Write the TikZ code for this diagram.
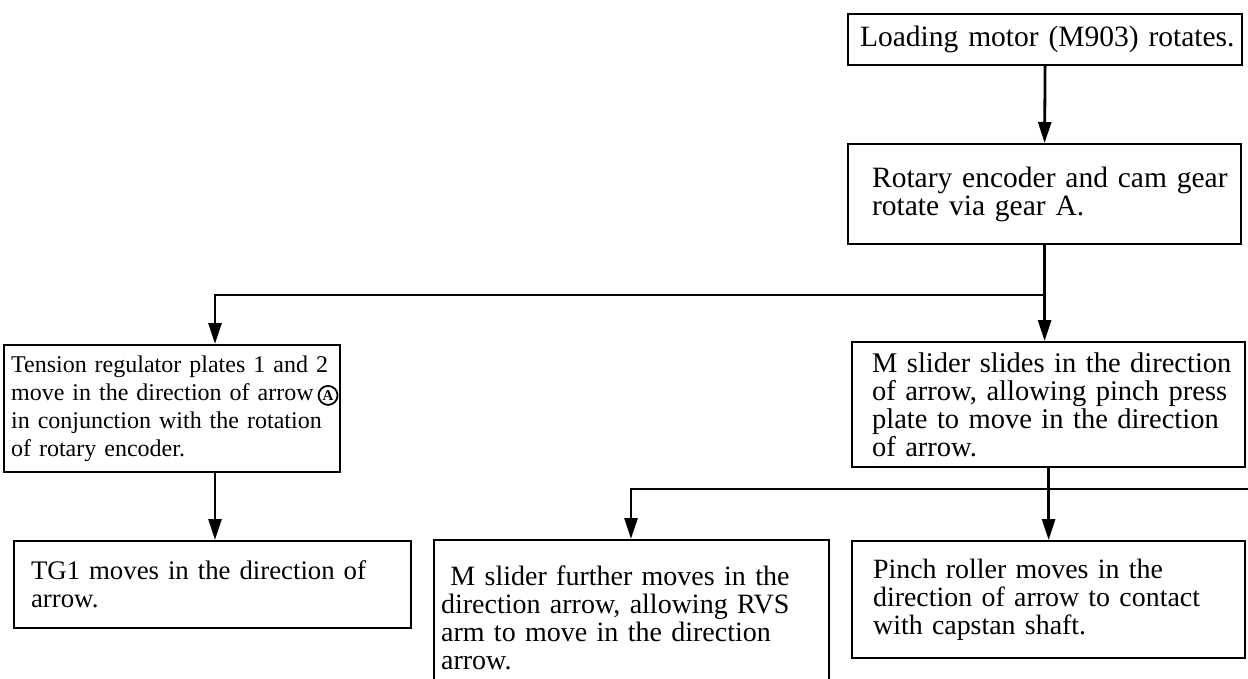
\documentclass[tikz,border=0pt]{standalone}
\usepackage{fontspec}
\setmainfont{Liberation Serif}
\usetikzlibrary{arrows.meta}
\newcommand\setfs[1]{\fontsize{#1}{28}\selectfont}
\newcommand\circA{\tikz[baseline={(ca.base)}]\node[circle, draw, line width=1.8pt, inner sep=0pt, minimum size=19pt, font=\bfseries\fontsize{15}{15}\selectfont] (ca) {A};}
\begin{document}
\begin{tikzpicture}[x=1pt,y=-1pt,
  box/.style n args={2}{draw, line width=2.2pt, rectangle, anchor=north west,
    inner sep=0pt, minimum width=#1pt, text width=#1pt, minimum height=#2pt, align=left},
  conn/.style={line width=2.8pt, -{Triangle[length=21pt,width=13pt]}},
]
\useasboundingbox (0,0) rectangle (1248,679);
\fill[white] (0,0) rectangle (1248,679);
\clip (0,0) rectangle (1248,679);

\node[box={394}{51}, font=\setfs{29.5}] (load) at (847,13)
  {\leftskip=12pt \mbox{Loading motor (M903) rotates.}\par};
\node[box={393}{100}, font=\setfs{29.5}] (rot) at (847,143)
  {\leftskip=24pt \mbox{Rotary encoder and cam gear}\\\mbox{rotate via gear A.}\par};
\node[box={336}{127}, font=\setfs{24}] (ten) at (3,344)
  {\leftskip=7pt \mbox{Tension regulator plates 1 and 2}\\\mbox{move in the direction of arrow\hspace{4pt}\circA}\\\mbox{in conjunction with the rotation}\\\mbox{of rotary encoder.}\par};
\node[box={393}{125}, font=\setfs{28.5}] (msl) at (851,341)
  {\leftskip=20pt \mbox{M slider slides in the direction}\\\mbox{of arrow, allowing pinch press}\\\mbox{plate to move in the direction}\\\mbox{of arrow.}\par};
\node[box={397}{87}, font=\setfs{26.8}] (tg) at (13,540)
  {\leftskip=17pt \mbox{TG1 moves in the direction of}\\\mbox{arrow.}\par};
\node[box={395}{156}, font=\setfs{28}] (mfur) at (433,539)
  {\leftskip=7pt \mbox{ M slider further moves in the}\\\mbox{direction arrow, allowing RVS}\\\mbox{arm to move in the direction}\\\mbox{arrow.}\par};
\node[box={393}{117}, font=\setfs{27.9}] (pin) at (851,540)
  {\leftskip=21pt \mbox{Pinch roller moves in the}\\\mbox{direction of arrow to contact}\\\mbox{with capstan shaft.}\par};

% connectors
\draw[conn] (load.south) -- (rot.north);
\draw[conn] (rot.south) -- (rot.south |- msl.north);
\coordinate (j1) at (rot.south |- 0,295);
\coordinate (t1) at (215,295);
\draw[conn] (j1) -- (t1) -- (t1 |- ten.north);
\draw[conn] (t1 |- ten.south) -- (t1 |- tg.north);
\draw[conn] (msl.south) -- (pin.north);
\coordinate (e2) at (1252,489);
\coordinate (m2) at (631,489);
\draw[conn] (e2) -- (m2) -- (m2 |- mfur.north);
\end{tikzpicture}
\end{document}
